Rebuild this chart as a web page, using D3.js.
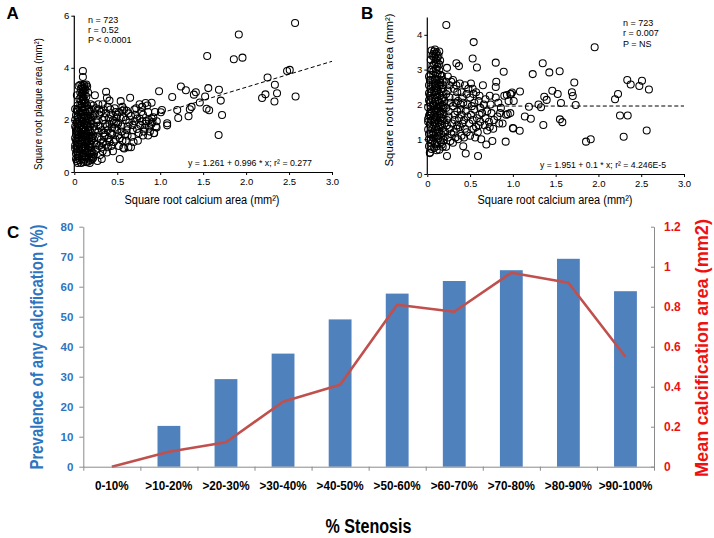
<!DOCTYPE html>
<html><head><meta charset="utf-8">
<script src="https://cdn.jsdelivr.net/npm/d3@7"></script>
<style>body{margin:0;background:#fff}svg{display:block}text{font-family:"Liberation Sans",Arial,sans-serif}</style>
</head><body><svg id="c" width="714" height="538"></svg>
<script>
// ---------- Panel A data: sqrt calcium area vs sqrt plaque area ----------
const plaqueSparse = [[2.57,5.72],[1.915,5.28],[1.547,4.45],[1.857,4.33],[1.958,4.39],[2.477,3.88],[2.508,3.92],[2.25,3.63],[2.335,3.35],[2.36,3.02],[2.225,2.98],[2.186,2.84],[2.33,2.71],[2.576,2.9],[1.684,3.16],[1.705,2.74],[1.72,2.19],[1.68,1.42],[1.56,3.22],[1.523,2.9],[1.54,2.43],[1.57,2.37],[1.461,2.67],[1.415,3.06],[1.392,2.97],[1.299,3.14],[1.241,3.28],[1.365,2.5],[1.345,2.41],[1.33,2.14],[1.198,2.38],[1.21,2.07],[1.14,2.88],[0.987,3.1],[1.02,2.38],[1.008,2.29],[1.081,1.87],[1.081,1.79],[0.927,1.49],[0.9,2.66],[0.958,1.71]];
const plaqueMid = [[0.22,0.55],[0.25,0.85],[0.23,1.1],[0.27,1.35],[0.24,1.6],[0.26,1.9],[0.22,2.15],[0.25,2.45],[0.28,2.6],[0.24,2.95],[0.27,0.42],[0.21,0.75],[0.29,1.0],[0.21,1.3],[0.28,1.78],[0.2,2.4],[0.29,2.2],[0.3,0.65],[0.32,0.95],[0.31,1.25],[0.34,1.5],[0.3,1.75],[0.33,2.0],[0.31,2.3],[0.35,2.1],[0.34,1.15],[0.33,0.8],[0.38,0.75],[0.37,1.05],[0.4,1.3],[0.39,1.6],[0.41,1.85],[0.37,2.25],[0.42,2.4],[0.38,2.85],[0.37,3.08],[0.41,2.74],[0.36,1.42],[0.4,2.05],[0.45,0.8],[0.46,1.15],[0.44,1.45],[0.47,1.7],[0.45,2.0],[0.48,2.3],[0.5,2.2],[0.43,1.0],[0.49,1.9],[0.47,2.45],[0.52,1.0],[0.53,1.3],[0.55,1.55],[0.51,1.85],[0.54,2.05],[0.56,2.35],[0.54,2.72],[0.53,0.5],[0.57,0.93],[0.56,1.2],[0.5,1.6],[0.58,0.9],[0.6,1.2],[0.59,1.45],[0.62,1.75],[0.6,2.0],[0.63,2.25],[0.65,2.85],[0.58,2.4],[0.63,0.95],[0.61,1.6],[0.66,0.95],[0.67,1.35],[0.68,1.6],[0.7,1.95],[0.66,2.15],[0.72,2.45],[0.69,1.15],[0.71,2.2],[0.74,1.2],[0.75,1.5],[0.77,1.8],[0.73,2.05],[0.78,2.3],[0.76,2.6],[0.79,1.95],[0.8,1.4],[0.82,1.7],[0.84,1.95],[0.8,2.2],[0.85,2.55],[0.83,2.65],[0.81,1.55],[0.88,1.55],[0.9,1.85],[0.87,2.0],[0.92,2.1],[0.93,1.5],[0.95,1.75],[0.96,1.95],[0.91,1.92],[0.86,2.3],
[0.21,0.5],[0.23,0.7],[0.26,1.05],[0.22,1.4],[0.28,1.55],[0.23,1.75],[0.27,2.0],[0.24,2.25],[0.29,2.4],[0.22,2.55],[0.32,0.5],[0.33,1.1],[0.35,1.35],[0.32,1.6],[0.36,1.85],[0.34,2.4],[0.33,2.6],[0.39,0.95],[0.41,1.15],[0.42,1.5],[0.38,1.75],[0.43,2.2],[0.39,2.5],[0.44,1.7],[0.46,1.9],[0.48,1.25],[0.51,1.4],[0.49,2.1],[0.52,2.3],[0.55,1.75],[0.57,2.1],[0.56,2.5],[0.62,1.4],[0.64,1.9],[0.61,2.35],[0.68,1.8],[0.7,2.4],[0.73,1.65],[0.76,2.05],[0.79,2.5],[0.83,1.85],[0.87,1.75],[0.9,2.05],[0.94,2.3],[0.86,1.4]];
const plaqueDense = [[0.03,0.42],[0.08,0.35],[0.14,0.38],[0.19,0.45],[0.05,0.55],[0.11,0.6],[0.17,0.52],[0.02,0.7],[0.07,0.75],[0.13,0.72],[0.2,0.68],[0.04,0.88],[0.1,0.9],[0.16,0.85],[0.01,1.02],[0.06,1.05],[0.12,1.0],[0.18,1.08],[0.03,1.18],[0.09,1.2],[0.15,1.15],[0.2,1.22],[0.05,1.32],[0.11,1.35],[0.17,1.3],[0.02,1.45],[0.08,1.5],[0.14,1.47],[0.19,1.52],[0.04,1.62],[0.1,1.65],[0.16,1.6],[0.01,1.75],[0.07,1.78],[0.13,1.8],[0.18,1.74],[0.03,1.9],[0.09,1.93],[0.15,1.88],[0.2,1.95],[0.05,2.05],[0.11,2.08],[0.17,2.02],[0.02,2.18],[0.08,2.2],[0.14,2.15],[0.19,2.22],[0.04,2.32],[0.1,2.35],[0.16,2.3],[0.06,2.45],[0.12,2.5],[0.09,2.62],[0.11,2.75],[0.1,2.88],[0.09,3.0],[0.11,3.1],[0.1,3.2],[0.09,3.3],[0.12,3.32],[0.05,3.3],[0.15,3.28],[0.1,3.65],[0.1,3.88],[0.13,2.68],[0.07,2.58],[0.14,2.9],[0.07,3.05],[0.13,3.15],[0.06,2.8],[0.06,0.45],[0.12,0.48],[0.16,0.4],[0.09,0.62],[0.03,0.8],[0.15,0.78],[0.08,0.95],[0.19,0.95],[0.04,1.1],[0.14,1.25],[0.07,1.4],[0.18,1.4],[0.11,1.55],[0.05,1.7],[0.16,1.72],[0.12,1.85],[0.06,1.98],[0.19,2.1],[0.13,2.28],[0.03,2.38],[0.17,2.42],[0.08,2.1],[0.14,1.98],[0.02,1.58],[0.1,1.28],[0.06,0.65],[0.2,0.82],[0.13,0.92],[0.01,1.3],[0.17,1.18],
[0.02,0.5],[0.09,0.48],[0.15,0.55],[0.2,0.58],[0.04,0.62],[0.1,0.72],[0.18,0.7],[0.06,0.85],[0.12,0.82],[0.01,0.9],[0.17,0.98],[0.03,1.0],[0.09,1.08],[0.14,1.1],[0.2,1.05],[0.07,1.22],[0.12,1.15],[0.02,1.22],[0.16,1.38],[0.05,1.42],[0.1,1.42],[0.2,1.35],[0.03,1.55],[0.13,1.58],[0.18,1.62],[0.08,1.62],[0.02,1.68],[0.11,1.72],[0.15,1.8],[0.05,1.85],[0.19,1.85],[0.1,1.98],[0.01,2.0],[0.16,2.08],[0.04,2.12],[0.12,2.15],[0.07,2.28],[0.18,2.3],[0.01,2.42],[0.11,2.42],[0.15,2.55],[0.04,2.55],[0.09,2.5],[0.19,2.6],[0.12,2.62],[0.08,2.72],[0.1,2.8],[0.12,2.95],[0.08,2.92],[0.1,3.05],[0.12,3.22],[0.08,3.2],[0.11,3.35],[0.07,3.35],[0.14,3.36],[0.03,2.95],[0.16,3.05],[0.04,0.35],[0.11,0.38],[0.18,0.35]];
const regA = {intercept: 1.261, slope: 0.996};
const statsA = ["n = 723", "r = 0.52", "P < 0.0001"];
const eqA = "y = 1.261  +  0.996 * x; r² = 0.277";

// ---------- Panel B data: sqrt calcium area vs sqrt lumen area ----------
const lumenSparse = [[1.956,3.64],[1.349,3.18],[1.232,2.87],[1.426,2.92],[1.547,2.95],[1.718,2.63],[1.69,2.35],[1.7,2.24],[1.734,1.98],[1.562,2.04],[1.524,2.3],[1.461,2.39],[1.395,2.13],[1.367,2.22],[1.329,1.92],[1.3,2.0],[1.188,1.93],[1.083,2.37],[1.01,2.1],[0.97,2.3],[0.99,2.34],[0.93,2.27],[1.14,1.65],[1.21,1.59],[1.356,1.41],[1.55,1.57],[1.578,1.49],[1.005,1.31],[1.08,1.24],[0.916,0.93],[0.94,1.72],[1.855,0.93],[1.91,1.0],[2.337,2.7],[2.377,2.57],[2.509,2.68],[2.478,2.53],[2.59,2.43],[2.229,2.3],[2.194,2.15],[2.252,1.68],[2.342,1.68],[2.295,1.07],[2.564,1.25],[0.222,4.28],[0.542,3.79],[0.53,3.32],[0.58,3.06],[0.34,3.18],[0.37,3.1],[0.8,3.2],[0.893,2.94],[0.806,2.65],[0.23,0.52],[0.593,0.52],[0.449,0.59],[0.03,0.6]];
const lumenMid = [[0.22,0.78],[0.24,1.05],[0.26,1.3],[0.23,1.55],[0.25,1.8],[0.27,2.05],[0.22,2.3],[0.26,2.55],[0.24,2.8],[0.23,3.05],[0.3,0.9],[0.31,1.2],[0.29,1.45],[0.32,1.7],[0.3,1.95],[0.33,2.2],[0.31,2.45],[0.3,2.7],[0.36,1.0],[0.38,1.35],[0.37,1.6],[0.39,1.85],[0.36,2.1],[0.4,2.35],[0.38,2.6],[0.35,1.4],[0.42,0.8],[0.44,1.3],[0.43,1.55],[0.45,1.8],[0.42,2.05],[0.46,2.3],[0.44,2.55],[0.43,1.05],[0.5,1.1],[0.49,1.45],[0.51,1.7],[0.52,1.95],[0.5,2.2],[0.53,2.45],[0.51,2.6],[0.56,1.05],[0.57,1.35],[0.58,1.6],[0.55,1.85],[0.6,2.1],[0.57,2.35],[0.59,1.2],[0.63,1.0],[0.62,1.5],[0.64,1.75],[0.66,2.0],[0.65,2.55],[0.61,1.7],[0.69,0.85],[0.7,1.25],[0.72,1.5],[0.7,1.8],[0.73,2.25],[0.68,1.6],[0.76,0.95],[0.77,1.3],[0.78,1.55],[0.8,2.2],[0.8,2.5],[0.75,1.75],[0.84,1.45],[0.86,1.9],[0.85,1.75],[0.88,1.45],[0.9,2.25],[0.92,1.7],[0.95,2.1],[0.98,2.3],[1.0,1.32],[0.97,1.75],
[0.21,1.2],[0.23,1.4],[0.25,1.65],[0.22,1.9],[0.26,2.2],[0.24,2.4],[0.28,2.65],[0.22,2.65],[0.28,1.15],[0.27,0.95],[0.33,1.05],[0.34,1.3],[0.32,1.55],[0.35,1.8],[0.33,2.05],[0.35,2.35],[0.34,2.55],[0.4,1.1],[0.41,1.45],[0.4,1.7],[0.39,2.0],[0.41,2.2],[0.46,1.2],[0.47,1.65],[0.47,2.0],[0.48,2.45],[0.54,1.3],[0.53,1.55],[0.55,2.05],[0.54,2.3],[0.6,1.4],[0.62,1.9],[0.61,2.25],[0.67,1.4],[0.68,2.15],[0.73,1.35],[0.74,2.0],[0.82,1.65],[0.83,2.05]];
const lumenDense = [[0.03,0.62],[0.08,0.75],[0.14,0.7],[0.05,0.88],[0.11,0.92],[0.17,0.85],[0.02,1.0],[0.07,1.05],[0.13,1.02],[0.19,1.08],[0.04,1.15],[0.1,1.18],[0.16,1.15],[0.01,1.28],[0.06,1.3],[0.12,1.27],[0.18,1.32],[0.03,1.42],[0.09,1.44],[0.15,1.4],[0.2,1.45],[0.05,1.55],[0.11,1.57],[0.17,1.53],[0.02,1.67],[0.08,1.7],[0.14,1.66],[0.19,1.72],[0.04,1.8],[0.1,1.83],[0.16,1.79],[0.01,1.92],[0.07,1.95],[0.13,1.93],[0.18,1.97],[0.03,2.06],[0.09,2.08],[0.15,2.05],[0.2,2.1],[0.05,2.19],[0.11,2.21],[0.17,2.18],[0.02,2.32],[0.08,2.35],[0.14,2.31],[0.19,2.36],[0.04,2.45],[0.1,2.48],[0.16,2.44],[0.06,2.58],[0.12,2.6],[0.18,2.56],[0.03,2.7],[0.09,2.73],[0.15,2.69],[0.07,2.85],[0.12,2.88],[0.05,3.0],[0.1,3.02],[0.14,2.98],[0.08,3.15],[0.12,3.18],[0.04,3.28],[0.1,3.3],[0.15,3.26],[0.07,3.45],[0.11,3.5],[0.05,3.55],[0.09,3.58],[0.13,3.4],[0.06,1.12],[0.13,1.36],[0.08,1.48],[0.16,1.62],[0.05,1.75],[0.12,1.88],[0.07,2.0],[0.17,2.12],[0.03,2.25],[0.11,2.38],[0.06,2.5],[0.14,2.55],[0.09,2.62],[0.02,2.8],[0.17,2.82],[0.11,0.8],[0.06,0.95],[0.15,0.97],[0.19,1.22],[0.01,1.58],
[0.02,0.8],[0.09,0.88],[0.16,0.92],[0.04,0.98],[0.12,1.1],[0.19,0.98],[0.07,1.2],[0.14,1.22],[0.02,1.15],[0.1,1.35],[0.17,1.42],[0.04,1.35],[0.07,1.58],[0.13,1.5],[0.19,1.58],[0.01,1.5],[0.1,1.62],[0.15,1.72],[0.03,1.72],[0.08,1.85],[0.14,1.82],[0.19,1.88],[0.04,1.95],[0.11,1.97],[0.16,1.95],[0.02,2.12],[0.06,2.15],[0.13,2.1],[0.19,2.2],[0.09,2.28],[0.15,2.25],[0.05,2.35],[0.12,2.42],[0.18,2.45],[0.02,2.55],[0.09,2.52],[0.15,2.62],[0.06,2.7],[0.12,2.72],[0.18,2.7],[0.04,2.85],[0.1,2.9],[0.15,2.85],[0.07,2.95],[0.12,3.08],[0.06,3.12],[0.1,3.2],[0.14,3.15],[0.08,3.35],[0.12,3.35],[0.06,3.4],[0.1,3.45],[0.14,3.52],[0.08,3.52],[0.11,0.68],[0.05,0.72],[0.18,0.78]];
const regB = {intercept: 1.951, slope: 0.001};
const statsB = ["n = 723", "r = 0.007", "P = NS"];
const eqB = "y = 1.951  +  0.1 * x; r² = 4.246E-5";

const xTickVals = [0, 0.5, 1.0, 1.5, 2.0, 2.5, 3.0];
const xTickLabels = ["0", "0.5", "1.0", "1.5", "2.0", "2.5", "3.0"];
const yTicksA = [0, 2, 4, 6];
const yTicksB = [0, 1, 2, 3, 4];

// ---------- Panel C data ----------
const categories = ["0-10%", ">10-20%", ">20-30%", ">30-40%", ">40-50%", ">50-60%", ">60-70%", ">70-80%", ">80-90%", ">90-100%"];
const prevalence = [0, 13.6, 29.2, 37.7, 49.1, 57.7, 61.9, 65.5, 69.3, 58.5];
const meanArea = [0, 0.075, 0.122, 0.325, 0.41, 0.81, 0.775, 0.97, 0.92, 0.55];
const leftTicks = [0, 10, 20, 30, 40, 50, 60, 70, 80];
const rightTicks = [0, 0.2, 0.4, 0.6, 0.8, 1, 1.2];
const rightTickLabels = ["0", "0.2", "0.4", "0.6", "0.8", "1", "1.2"];

const svg = d3.select("#c");
const FONT = '"Liberation Sans", Arial, sans-serif';

function scatterPanel(o) {
  const x = d3.scaleLinear([0, 3], [o.x0, o.x1]);
  const y = d3.scaleLinear([0, o.yMax], [o.yBase, o.yTop]);
  const g = svg.append("g");
  const line = d3.line().x(d => x(d)).y(d => y(o.reg.intercept + o.reg.slope * d));
  g.append("path").datum([0, 3]).attr("d", line).attr("fill", "none")
    .attr("stroke", "#000").attr("stroke-width", 1).attr("stroke-dasharray", "4,2.5");
  g.selectAll("circle.p").data(o.pts).join("circle").attr("class", "p")
    .attr("cx", d => x(d[0])).attr("cy", d => y(d[1])).attr("r", 3.5)
    .attr("fill", "none").attr("stroke", "#000").attr("stroke-width", 1.05);
  const ax = g.append("g").attr("transform", `translate(0,${o.yBase})`)
    .call(d3.axisBottom(x).tickValues(xTickVals).tickFormat((d, i) => xTickLabels[i]).tickSize(3).tickSizeOuter(0).tickPadding(3));
  const ay = g.append("g").attr("transform", `translate(${o.x0},0)`)
    .call(d3.axisLeft(y).tickValues(o.yTicks).tickFormat(d => String(d)).tickSize(3).tickSizeOuter(0).tickPadding(2));
  [ax, ay].forEach(a => {
    a.attr("font-family", FONT).attr("font-size", 9.5);
    a.select(".domain").attr("stroke", "#000").attr("stroke-width", 1.2);
    a.selectAll("line").attr("stroke", "#000");
    a.selectAll("text").attr("fill", "#000");
  });
  ay.select(".domain").attr("d", `M0,${o.yBase}V${o.yTop}`);
  // titles
  svg.append("text").attr("x", o.xt).attr("y", o.xtY).attr("text-anchor", "middle")
    .attr("font-size", 12).attr("textLength", 155).attr("lengthAdjust", "spacingAndGlyphs").text(o.xTitle);
  svg.append("text").attr("transform", `translate(${o.ytX},${o.ytY}) rotate(-90)`).attr("text-anchor", "middle")
    .attr("font-size", 11.5).attr("textLength", o.ytLen).attr("lengthAdjust", "spacingAndGlyphs").text(o.yTitle);
  svg.append("text").attr("x", o.lx).attr("y", 18.5).attr("font-size", 17).attr("font-weight", "bold").text(o.letter);
  o.stats.forEach((s, i) => {
    svg.append("text").attr("x", o.sx).attr("y", o.sy + i * 10.3).attr("font-size", 9).text(s);
  });
  svg.append("text").attr("x", o.ex).attr("y", o.ey).attr("font-size", 9)
    .attr("textLength", o.eLen).attr("lengthAdjust", "spacingAndGlyphs").text(o.eq);
}

scatterPanel({
  x0: 74.3, x1: 332, yBase: 172, yTop: 15.7, yMax: 6, yTicks: yTicksA,
  pts: plaqueDense.concat(plaqueMid, plaqueSparse), reg: regA,
  xTitle: "Square root calcium area (mm²)", xt: 202, xtY: 203.5,
  yTitle: "Square root plaque area (mm²)", ytX: 42, ytY: 104, ytLen: 132,
  letter: "A", lx: 6.5, stats: statsA, sx: 88, sy: 22.5, eq: eqA, ex: 188, ey: 166, eLen: 124
});
scatterPanel({
  x0: 427.3, x1: 684, yBase: 174, yTop: 17.4, yMax: 4.5, yTicks: yTicksB,
  pts: lumenDense.concat(lumenMid, lumenSparse), reg: regB,
  xTitle: "Square root calcium area (mm²)", xt: 555, xtY: 204,
  yTitle: "Square root lumen area (mm²)", ytX: 393, ytY: 90, ytLen: 153,
  letter: "B", lx: 361, stats: statsB, sx: 623, sy: 26, eq: eqB, ex: 540, ey: 167.5, eLen: 126
});

// ---------- Panel C ----------
const BLUE = "#2e75c0", RED = "#ee1111", AXIS = "#8a8a8a";
const cX0 = 83.3, cX1 = 654, cY0 = 466.7, cY1 = 226.7;
const xb = d3.scaleBand(categories, [cX0, cX1]).paddingInner(0.6).paddingOuter(0.3);
const yL = d3.scaleLinear([0, 80], [cY0, cY1]);
const yR = d3.scaleLinear([0, 1.2], [cY0, cY1]);
const gc = svg.append("g");
gc.selectAll("rect").data(categories).join("rect")
  .attr("x", d => xb(d)).attr("width", xb.bandwidth())
  .attr("y", (d, i) => yL(prevalence[i])).attr("height", (d, i) => cY0 - yL(prevalence[i]))
  .attr("fill", "#4f81bd");
gc.append("path").datum(meanArea)
  .attr("d", d3.line().x((d, i) => xb(categories[i]) + xb.bandwidth() / 2).y(d => yR(d)))
  .attr("fill", "none").attr("stroke", "#c0504d").attr("stroke-width", 2.6).attr("stroke-linejoin", "round");

const axL = gc.append("g").attr("transform", `translate(${cX0},0)`)
  .call(d3.axisLeft(yL).tickValues(leftTicks).tickSize(4).tickSizeOuter(0).tickPadding(6));
const axR = gc.append("g").attr("transform", `translate(${cX1},0)`)
  .call(d3.axisRight(yR).tickValues(rightTicks).tickFormat((d, i) => rightTickLabels[i]).tickSize(-3).tickSizeOuter(0).tickPadding(10));
const xIdx = d3.scaleLinear([0, 10], [cX0, cX1]);
const axB = gc.append("g").attr("transform", `translate(0,${cY0})`)
  .call(d3.axisBottom(xIdx).tickValues(d3.range(0, 11)).tickFormat("").tickSize(4).tickSizeOuter(0));
[axL, axR, axB].forEach(a => {
  a.attr("font-family", FONT).attr("font-weight", "bold");
  a.select(".domain").attr("stroke", AXIS).attr("stroke-width", 1);
  a.selectAll("line").attr("stroke", AXIS);
});
axL.attr("font-size", 11.5).selectAll("text").attr("fill", BLUE);
axR.attr("font-size", 12).selectAll("text").attr("fill", RED);

categories.forEach(c => {
  gc.append("text").attr("transform", `translate(${xb(c) + xb.bandwidth() / 2},489.5) scale(0.9,1)`)
    .attr("text-anchor", "middle").attr("font-size", 13).attr("font-weight", "bold").text(c);
});
svg.append("text").attr("x", 368.5).attr("y", 533).attr("text-anchor", "middle")
  .attr("font-size", 20).attr("font-weight", "bold").attr("textLength", 86).attr("lengthAdjust", "spacingAndGlyphs").text("% Stenosis");
svg.append("text").attr("transform", "translate(42.5,347) rotate(-90)").attr("text-anchor", "middle")
  .attr("font-size", 18.5).attr("font-weight", "bold").attr("fill", BLUE)
  .attr("textLength", 245).attr("lengthAdjust", "spacingAndGlyphs").text("Prevalence of any calcification (%)");
svg.append("text").attr("transform", "translate(707.5,348) rotate(-90)").attr("text-anchor", "middle")
  .attr("font-size", 17.5).attr("font-weight", "bold").attr("fill", RED)
  .attr("textLength", 258).attr("lengthAdjust", "spacingAndGlyphs").text("Mean calcification area (mm2)");
svg.append("text").attr("x", 7).attr("y", 238).attr("font-size", 17).attr("font-weight", "bold").text("C");
</script></body></html>
